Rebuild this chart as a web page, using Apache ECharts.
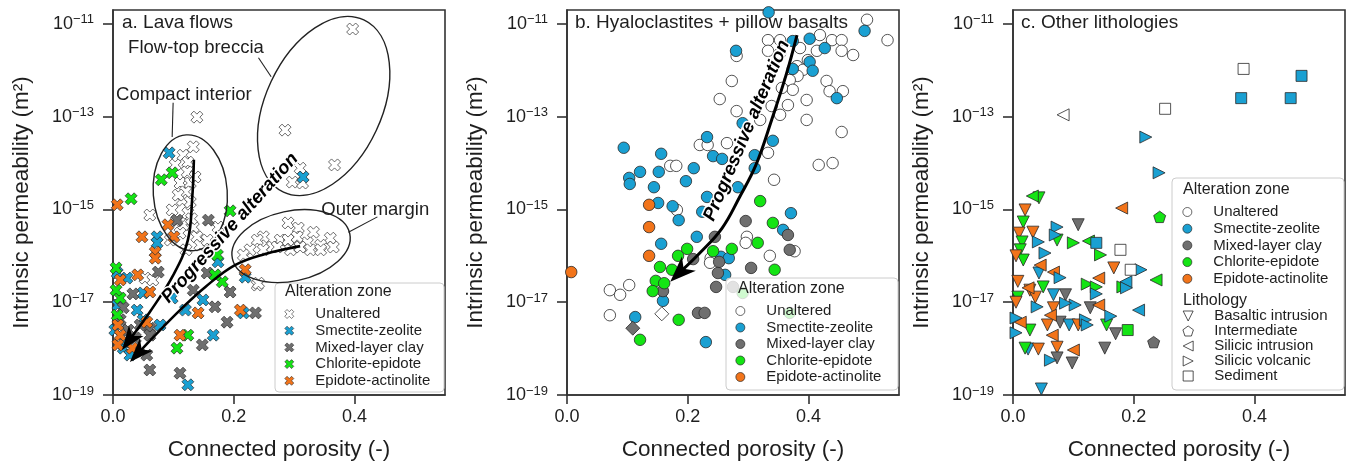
<!DOCTYPE html>
<html><head><meta charset="utf-8">
<script src="https://cdn.jsdelivr.net/npm/echarts@6/dist/echarts.min.js"></script>
<style>html,body{margin:0;padding:0;background:#fff}#c{width:1348px;height:466px}</style>
</head><body><div id="c"></div>
<script>
// ---------------- DATA (porosity, log10 permeability) ----------------
const xTicks = [0, 0.2, 0.4];
const yTicks = [-19, -17, -15, -13, -11];
const zoneNames = ['Unaltered', 'Smectite-zeolite', 'Mixed-layer clay', 'Chlorite-epidote', 'Epidote-actinolite'];
const zoneCodes = ['U', 'S', 'M', 'C', 'E'];
const lithNames = ['Basaltic intrusion', 'Intermediate', 'Silicic intrusion', 'Silicic volcanic', 'Sediment'];
const panelTitles = ['a. Lava flows', 'b. Hyaloclastites + pillow basalts', 'c. Other lithologies'];

// panel a: lava flows
const aUnaltered = [[0.397,-11.11],[0.139,-13.01],[0.285,-13.29],[0.367,-14.04],[0.310,-14.11],[0.297,-14.41],[0.314,-14.43],
[0.133,-13.65],[0.116,-13.83],[0.124,-13.98],[0.123,-14.19],[0.111,-14.43],[0.128,-14.43],[0.120,-14.62],[0.115,-14.80],[0.128,-14.84],
[0.098,-15.01],[0.061,-15.12],[0.124,-15.08],[0.116,-15.33],[0.133,-15.38],[0.139,-15.59],[0.144,-15.77],[0.111,-15.51],[0.174,-15.38],
[0.156,-15.66],[0.103,-14.04],[0.108,-14.69],[0.095,-15.66],[0.121,-15.87],[0.053,-16.48],[0.066,-16.52],[0.239,-16.63],[0.136,-14.30],
[0.130,-15.20],[0.105,-15.25],
[0.290,-15.29],[0.307,-15.40],[0.332,-15.49],[0.360,-15.62],[0.365,-15.81],[0.344,-15.77],[0.322,-15.72],[0.305,-15.59],[0.277,-15.66],
[0.264,-15.81],[0.249,-15.59],[0.239,-15.66],[0.227,-15.87],[0.216,-15.98],[0.249,-15.87],[0.290,-15.66],[0.310,-15.81],[0.327,-15.87],
[0.344,-15.87],[0.241,-16.59],[0.272,-15.81],[0.294,-15.87]];
const aSmectite = [[0.093,-13.78],[0.315,-14.30],[0.073,-15.59],[0.073,-15.72],[0.174,-16.13],[0.219,-16.46],[0.007,-16.37],[0.023,-16.48],
[0.050,-16.80],[0.008,-17.06],[0.040,-17.17],[0.050,-17.38],[0.078,-17.49],[0.020,-17.86],[0.017,-17.99],[0.098,-16.91],[0.120,-17.17],
[0.149,-16.95],[0.216,-17.23],[0.166,-17.71],[0.124,-18.78],[0.003,-17.60],[0.028,-18.14]];
const aMixed = [[0.106,-15.23],[0.158,-15.23],[0.075,-16.35],[0.033,-16.82],[0.017,-17.12],[0.045,-17.49],[0.061,-17.56],[0.037,-17.77],
[0.061,-17.71],[0.056,-18.14],[0.169,-17.10],[0.189,-17.43],[0.236,-17.23],[0.148,-17.92],[0.061,-18.46],[0.111,-18.53],[0.156,-16.37],
[0.194,-16.78],[0.133,-16.74],[0.012,-17.38],[0.025,-17.60]];
const aChlorite = [[0.098,-14.21],[0.080,-14.36],[0.030,-14.77],[0.194,-15.03],[0.173,-15.98],[0.181,-16.56],[0.005,-16.26],[0.012,-16.91],
[0.007,-17.28],[0.124,-17.71],[0.106,-17.99],[0.169,-16.41],[0.005,-16.74]];
const aEpidote = [[0.007,-14.90],[0.091,-15.33],[0.101,-15.59],[0.048,-15.59],[0.070,-15.92],[0.070,-16.05],[0.041,-16.41],[0.012,-16.52],
[0.061,-16.78],[0.008,-17.49],[0.012,-17.71],[0.056,-17.43],[0.141,-17.23],[0.211,-17.17],[0.111,-17.71],[0.219,-16.30],[0.032,-17.99],
[0.008,-17.92]];

// panel b: hyaloclastites + pillow basalts
const bUnaltered = [[0.497,-10.91],[0.531,-11.35],[0.333,-11.35],[0.353,-11.35],[0.419,-11.24],[0.439,-11.35],[0.455,-11.35],[0.455,-11.58],
[0.474,-11.67],[0.414,-11.58],[0.386,-11.52],[0.333,-11.58],[0.353,-11.63],[0.281,-11.69],[0.399,-11.78],[0.381,-11.91],[0.391,-11.99],
[0.382,-12.12],[0.369,-12.21],[0.430,-12.23],[0.435,-12.45],[0.457,-12.45],[0.273,-12.23],[0.374,-12.42],[0.356,-12.38],[0.397,-12.64],
[0.366,-12.75],[0.339,-12.77],[0.353,-12.96],[0.253,-12.62],[0.281,-12.88],[0.397,-13.07],[0.455,-13.33],[0.320,-13.07],[0.333,-13.78],
[0.265,-13.57],[0.220,-13.61],[0.233,-13.61],[0.417,-14.04],[0.440,-14.00],[0.171,-14.06],[0.181,-14.06],[0.343,-14.36],[0.182,-15.01],
[0.298,-15.59],[0.296,-15.72],[0.377,-15.90],[0.336,-16.00],[0.238,-16.05],[0.237,-16.15],[0.071,-16.74],[0.088,-16.84],[0.103,-16.63],
[0.071,-17.28]];
const bSmectite = [[0.334,-10.75],[0.493,-11.15],[0.402,-11.32],[0.427,-11.52],[0.374,-11.37],[0.280,-11.58],[0.402,-11.82],[0.374,-11.97],
[0.407,-12.01],[0.447,-12.60],[0.291,-13.14],[0.232,-13.44],[0.341,-13.52],[0.242,-13.85],[0.257,-13.91],[0.311,-13.83],[0.311,-14.11],
[0.094,-13.67],[0.156,-13.80],[0.121,-14.19],[0.152,-14.19],[0.103,-14.32],[0.104,-14.45],[0.210,-14.11],[0.197,-14.39],[0.144,-14.52],
[0.283,-14.52],[0.232,-14.73],[0.151,-14.86],[0.175,-14.93],[0.224,-15.05],[0.185,-15.23],[0.371,-15.08],[0.358,-15.44],[0.156,-15.74],
[0.215,-15.59],[0.255,-16.02],[0.268,-16.05],[0.262,-16.41],[0.159,-16.97],[0.113,-17.32],[0.230,-17.86]];
const bMixed = [[0.296,-15.25],[0.245,-15.59],[0.366,-15.55],[0.209,-16.07],[0.252,-16.13],[0.369,-15.87],[0.305,-16.26],[0.250,-16.37],
[0.159,-16.76],[0.247,-16.67],[0.275,-16.67],[0.217,-17.23],[0.228,-17.23]];
const bChlorite = [[0.320,-14.82],[0.341,-15.29],[0.316,-15.72],[0.184,-16.00],[0.199,-15.85],[0.242,-15.90],[0.273,-15.85],[0.154,-16.24],
[0.174,-16.30],[0.344,-16.30],[0.147,-16.54],[0.161,-16.59],[0.142,-16.76],[0.291,-16.80],[0.185,-17.38],[0.121,-17.81],[0.369,-17.23]];
const bEpidote = [[0.136,-14.90],[0.136,-15.38],[0.136,-16.00],[0.007,-16.35]];
const bUnalteredDiamond = [[0.157,-17.25]];
const bMixedDiamond = [[0.109,-17.56]];

// panel c: other lithologies  [porosity, log10 k, zone code]
const cBasaltic = [[0.043,-14.75,'C'],[0.020,-15.01,'E'],[0.017,-15.27,'C'],[0.108,-15.33,'M'],[0.010,-15.51,'E'],[0.033,-15.49,'E'],
[0.015,-15.70,'C'],[0.012,-15.87,'C'],[0.017,-16.09,'C'],[0.073,-15.66,'C'],[0.043,-16.37,'S'],[0.167,-16.26,'E'],[0.050,-16.67,'C'],
[0.028,-16.74,'E'],[0.008,-16.89,'C'],[0.037,-16.89,'E'],[0.067,-16.84,'S'],[0.087,-16.84,'M'],[0.128,-17.12,'M'],[0.067,-17.12,'E'],
[0.057,-17.49,'E'],[0.078,-17.43,'M'],[0.093,-17.49,'S'],[0.108,-17.49,'E'],[0.028,-17.60,'C'],[0.155,-17.49,'C'],[0.170,-17.68,'M'],
[0.152,-17.99,'M'],[0.073,-17.97,'E'],[0.073,-18.20,'M'],[0.098,-18.31,'M'],[0.025,-18.01,'S'],[0.042,-18.01,'E'],[0.020,-17.99,'C'],
[0.047,-18.87,'S'],[0.005,-16.00,'E'],[0.005,-17.00,'E'],[0.008,-16.55,'E']];
const cIntermediate = [[0.243,-15.16,'C'],[0.233,-17.86,'M']];
const cSilicicIntrusion = [[0.083,-12.96,'U'],[0.180,-14.97,'E'],[0.032,-14.71,'C'],[0.125,-15.68,'C'],[0.208,-17.17,'S'],[0.237,-16.52,'C'],
[0.142,-17.06,'E'],[0.100,-18.03,'E'],[0.067,-16.35,'E'],[0.025,-16.69,'E'],[0.062,-17.28,'E'],[0.065,-17.71,'E'],[0.142,-16.48,'E'],
[0.012,-17.43,'E'],[0.187,-16.56,'S'],[0.045,-16.20,'E']];
const cSilicicVolcanic = [[0.220,-13.44,'S'],[0.242,-14.21,'S'],[0.073,-15.38,'S'],[0.070,-15.55,'S'],[0.042,-15.70,'S'],[0.053,-15.94,'S'],
[0.100,-15.72,'C'],[0.145,-15.98,'C'],[0.212,-16.30,'S'],[0.123,-16.61,'C'],[0.138,-16.67,'C'],[0.138,-16.82,'S'],[0.182,-16.67,'C'],
[0.188,-16.69,'S'],[0.103,-17.06,'S'],[0.087,-17.02,'S'],[0.162,-17.30,'S'],[0.120,-17.38,'S'],[0.123,-17.49,'S'],[0.040,-17.10,'S'],
[0.062,-18.25,'S'],[0.005,-17.34,'S'],[0.005,-17.66,'S'],[0.078,-16.47,'S']];
const cSediment = [[0.382,-11.97,'U'],[0.478,-12.12,'S'],[0.378,-12.60,'S'],[0.460,-12.60,'S'],[0.252,-12.83,'U'],[0.138,-15.72,'S'],
[0.178,-15.87,'U'],[0.195,-16.30,'U'],[0.190,-17.60,'C']];

// annotation anchors (data coordinates)
const ellipseCentres = [[0.349,-12.77],[0.128,-14.64],[0.295,-15.79]];
const annotLabelPos = [[0.025,-11.52],[0.005,-12.53],[0.345,-15.01]];
const annotLabels = ['Flow-top breccia', 'Compact interior', 'Outer margin'];
const leaderLines = [[[0.241,-11.73],[0.262,-12.14]], [[0.0996,-12.70],[0.098,-13.44]], [[0.438,-15.16],[0.390,-15.49]]];
const arrowA1 = [[0.134,-13.93],[0.131,-14.80],[0.124,-15.66],[0.100,-16.41],[0.061,-17.21],[0.015,-18.03]];
const arrowA2 = [[0.310,-15.79],[0.252,-15.96],[0.202,-16.20],[0.153,-16.67],[0.111,-17.17],[0.070,-17.71],[0.028,-18.29]];
const arrowB = [[0.381,-11.24],[0.363,-12.10],[0.339,-13.07],[0.313,-14.04],[0.286,-14.73],[0.257,-15.40],[0.220,-15.94],[0.171,-16.56]];
const progTextPos = [[0.194,-15.40],[0.298,-13.30]];

// ---------------- STYLE ----------------
const FONT = '"Liberation Sans", Arial, Helvetica, sans-serif';
const INK = '#1e1e1e';
const SPINE = '#333333';
const EDGE = '#2a2a2a';
const ZC = {U:'#ffffff', S:'#1aa0d2', M:'#6f6f6f', C:'#14e414', E:'#f2741a'};
const zoneColors = zoneCodes.map(c => ZC[c]);
const XPATH = 'path://M1,0L2,1L3,0L4,1L3,2L4,3L3,4L2,3L1,4L0,3L1,2L0,1Z';
const DOWN = 'path://M0,0L2,0L1,2Z';
const LEFT = 'path://M0,1L2,0L2,2Z';
const RIGHT = 'path://M0,0L2,1L0,2Z';
const PENT = 'path://M1,0L1.951,0.691L1.588,1.809L0.412,1.809L0.049,0.691Z';
const SQUARE = 'path://M0,0L2,0L2,2L0,2Z';
const lithSymbols = [DOWN, PENT, LEFT, RIGHT, SQUARE];

const grids = [
  {left:113, top:10, width:332, height:385},
  {left:567, top:10, width:332, height:385},
  {left:1013, top:10, width:332, height:385}
];

const chart = echarts.init(document.getElementById('c'), null, {renderer:'canvas'});

const xAxes = grids.map((g, i) => ({
  type:'value', gridIndex:i, min:0, max:0.55,
  axisLine:{show:true, onZero:false, lineStyle:{color:SPINE, width:1.6}},
  axisTick:{show:true, customValues:xTicks, length:9, lineStyle:{color:SPINE, width:1.6}},
  axisLabel:{customValues:xTicks, formatter:v => v.toFixed(1), fontSize:18, color:INK, fontFamily:FONT, margin:13},
  splitLine:{show:false},
  name:'Connected porosity (-)', nameLocation:'middle', nameGap:43,
  nameTextStyle:{fontSize:22.5, color:INK, fontFamily:FONT}
}));
const yAxes = grids.map((g, i) => ({
  type:'value', gridIndex:i, min:-19, max:-10.7,
  axisLine:{show:true, onZero:false, lineStyle:{color:SPINE, width:1.6}},
  axisTick:{show:true, customValues:yTicks, length:10, lineStyle:{color:SPINE, width:1.6}},
  axisLabel:{customValues:yTicks, margin:19,
    formatter:v => '{b|10}{s|\u2212' + Math.round(-v) + '}',
    rich:{b:{fontSize:18, color:INK, fontFamily:FONT}, s:{fontSize:13, color:INK, fontFamily:FONT, padding:[0,0,8,0]}}},
  splitLine:{show:false},
  name:'Intrinsic permeability (m\u00b2)', nameLocation:'middle', nameGap:80,
  nameTextStyle:{fontSize:22.5, color:INK, fontFamily:FONT}
}));

const series = [];
const aSets = [aUnaltered, aSmectite, aMixed, aChlorite, aEpidote];
aSets.forEach((d, i) => series.push({
  type:'scatter', name:zoneNames[i], xAxisIndex:0, yAxisIndex:0, data:d, symbol:XPATH, symbolSize:12,
  itemStyle:{color:zoneColors[i], borderColor:EDGE, borderWidth:0.7, opacity:1}, emphasis:{disabled:true}, z:2
}));
const bSets = [bUnaltered, bSmectite, bMixed, bChlorite, bEpidote];
bSets.forEach((d, i) => series.push({
  type:'scatter', name:zoneNames[i], xAxisIndex:1, yAxisIndex:1, data:d, symbol:'circle', symbolSize:11.5,
  itemStyle:{color:zoneColors[i], borderColor:EDGE, borderWidth:0.8, opacity:1}, emphasis:{disabled:true}, z:2
}));
[[bUnalteredDiamond, 0], [bMixedDiamond, 2]].forEach(([d, i]) => series.push({
  type:'scatter', name:zoneNames[i], xAxisIndex:1, yAxisIndex:1, data:d, symbol:'diamond', symbolSize:14,
  itemStyle:{color:zoneColors[i], borderColor:EDGE, borderWidth:0.8, opacity:1}, emphasis:{disabled:true}, z:2
}));
const cSets = [cBasaltic, cIntermediate, cSilicicIntrusion, cSilicicVolcanic, cSediment];
cSets.forEach((d, i) => series.push({
  type:'scatter', name:lithNames[i], xAxisIndex:2, yAxisIndex:2, data:d, symbol:lithSymbols[i],
  symbolSize: i === 4 ? 11 : 12, symbolKeepAspect:true,
  itemStyle:{color:p => ZC[p.data[2]], borderColor:EDGE, borderWidth:0.8, opacity:1}, emphasis:{disabled:true}, z:2
}));

const legendBase = {orient:'vertical', padding:0, itemWidth:42, itemHeight:9, selectedMode:false, z:6,
  textStyle:{fontSize:15, color:INK, fontFamily:FONT}};
const legends = [
  Object.assign({}, legendBase, {left:284.5, top:306.5, itemGap:1.7,
    data:zoneNames.map((n, i) => ({name:n, icon:XPATH, itemStyle:{color:zoneColors[i], borderColor:EDGE, borderWidth:0.6}}))}),
  Object.assign({}, legendBase, {left:735.5, top:303.5, itemGap:1.5,
    data:zoneNames.map((n, i) => ({name:n, icon:'circle', itemStyle:{color:zoneColors[i], borderColor:EDGE, borderWidth:0.7}}))}),
  Object.assign({}, legendBase, {left:1182.5, top:204.5, itemGap:1.7,
    data:zoneNames.map((n, i) => ({name:n, icon:'circle', itemStyle:{color:zoneColors[i], borderColor:EDGE, borderWidth:0.7}}))}),
  Object.assign({}, legendBase, {left:1182.5, top:308.5, itemGap:0, itemHeight:10,
    data:lithNames.map((n, i) => ({name:n, icon:lithSymbols[i], itemStyle:{color:'#ffffff', borderColor:EDGE, borderWidth:0.8}}))})
];

chart.setOption({
  animation:false,
  backgroundColor:'#ffffff',
  textStyle:{fontFamily:FONT},
  title: panelTitles.map((t, i) => ({text:t, left:grids[i].left + (i === 0 ? 9 : 8), top:13,
    textStyle:{fontSize:19, fontWeight:'normal', color:INK, fontFamily:FONT}, padding:0})),
  grid: grids.map(g => Object.assign({show:true, borderColor:SPINE, borderWidth:1.6, backgroundColor:'transparent', containLabel:false}, g)),
  xAxis: xAxes, yAxis: yAxes, legend: legends, series: series
});

// ---------------- ANNOTATIONS & LEGEND FRAMES ----------------
const G = [];
const toPx = (g, p) => chart.convertToPixel({gridIndex:g}, p);
const ellipseShapes = [{rx:58, ry:95, rot:-25}, {rx:37, ry:58, rot:4}, {rx:60, ry:35, rot:12}];
ellipseCentres.forEach((c, i) => {
  const p = toPx(0, c), e = ellipseShapes[i];
  G.push({type:'ellipse', x:p[0], y:p[1], rotation:e.rot * Math.PI / 180, shape:{cx:0, cy:0, rx:e.rx, ry:e.ry},
    style:{fill:'none', stroke:'#222', lineWidth:1.4}, z:5, silent:true});
});
annotLabels.forEach((t, i) => {
  const p = toPx(0, annotLabelPos[i]);
  G.push({type:'text', x:p[0], y:p[1], style:{text:t, fill:INK, fontSize:18.5, fontFamily:FONT, align:'left', verticalAlign:'middle'}, z:7, silent:true});
});
leaderLines.forEach(l => {
  const a = toPx(0, l[0]), b = toPx(0, l[1]);
  G.push({type:'line', shape:{x1:a[0], y1:a[1], x2:b[0], y2:b[1]}, style:{stroke:'#222', lineWidth:1.1}, z:5, silent:true});
});
function addArrow(g, pts, hl, hw, lw) {
  const P = pts.map(p => toPx(g, p));
  const n = P.length, tip = P[n - 1], prev = P[n - 2];
  let dx = tip[0] - prev[0], dy = tip[1] - prev[1];
  const L = Math.hypot(dx, dy); dx /= L; dy /= L;
  const bx = tip[0] - dx * hl, by = tip[1] - dy * hl, nx = -dy, ny = dx;
  const linePts = P.slice(0, n - 1).concat([[tip[0] - dx * hl * 0.6, tip[1] - dy * hl * 0.6]]);
  G.push({type:'polyline', shape:{points:linePts, smooth:0.4}, style:{stroke:'#000', lineWidth:lw, fill:'none'}, z:6, silent:true});
  G.push({type:'polygon', shape:{points:[tip, [bx + nx * hw / 2, by + ny * hw / 2], [tip[0] - dx * hl * 0.72, tip[1] - dy * hl * 0.72], [bx - nx * hw / 2, by - ny * hw / 2]]},
    style:{fill:'#000'}, z:6, silent:true});
}
addArrow(0, arrowA1, 24, 18, 2.6);
addArrow(0, arrowA2, 24, 18, 2.6);
addArrow(1, arrowB, 26, 20, 3);
[[0, 48], [1, 67]].forEach(([g, rot], i) => {
  const p = toPx(g, progTextPos[i]);
  G.push({type:'text', x:p[0], y:p[1], rotation:rot * Math.PI / 180,
    style:{text:'Progressive alteration', fill:'#000', stroke:'#fff', lineWidth:3, fontSize:18.5, fontWeight:'bold', fontStyle:'italic',
      fontFamily:FONT, align:'center', verticalAlign:'middle'}, z:7, silent:true});
});
// legend frames and titles
const boxes = [[275, 283, 169, 109], [726, 278, 172, 112], [1172, 178, 172, 212]];
boxes.forEach(b => G.push({type:'rect', shape:{x:b[0], y:b[1], width:b[2], height:b[3], r:4},
  style:{fill:'rgba(255,255,255,0.8)', stroke:'#cccccc', lineWidth:1}, z:4, silent:true}));
[['Alteration zone', 285, 292], ['Alteration zone', 738, 289], ['Alteration zone', 1183, 190], ['Lithology', 1183, 301]].forEach(t =>
  G.push({type:'text', x:t[1], y:t[2], style:{text:t[0], fill:INK, fontSize:16, fontFamily:FONT, align:'left', verticalAlign:'middle'}, z:7, silent:true}));

chart.setOption({graphic: G});
</script>
</body></html>
